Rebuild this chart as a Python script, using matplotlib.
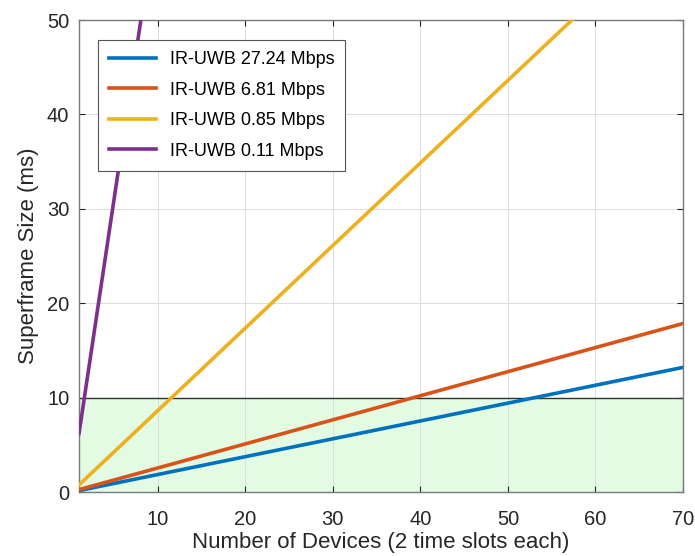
import numpy as np
import matplotlib.pyplot as plt

plt.rcParams['font.family'] = ['Liberation Sans', 'DejaVu Sans']

## data
devices = [1, 70]
labels = ['IR-UWB 27.24 Mbps', 'IR-UWB 6.81 Mbps', 'IR-UWB 0.85 Mbps', 'IR-UWB 0.11 Mbps']
sf_27 = [0.15, 13.2]
sf_6 = [0.25, 17.85]
sf_085 = [0.75, 61.1]
sf_011 = [6.2, 434.0]
limit = 10
colors = ['#0072BD', '#D95319', '#EDB120', '#7E2F8E']

fig = plt.figure(figsize=(6.95, 5.56), dpi=100)
ax = fig.add_axes([0.1137, 0.1151, 0.8690, 0.8489])

ax.axhspan(0, limit, color='#e3fbe3', zorder=0)
ax.axhline(limit, color='#333333', lw=1.0, zorder=1)

for y, lab, c in zip([sf_27, sf_6, sf_085, sf_011], labels, colors):
    ax.plot(devices, y, color=c, lw=2.6, label=lab, zorder=3)

ax.set_xlim(1, 70)
ax.set_ylim(0, 50)
ax.set_xticks([10, 20, 30, 40, 50, 60, 70])
ax.set_yticks([0, 10, 20, 30, 40, 50])
ax.grid(True, color='#dcdcdc', lw=0.7, zorder=0)
ax.set_axisbelow(True)
ax.tick_params(direction='in', top=True, right=True, labelsize=14.5, length=4,
               color='#222222', labelcolor='#262626', pad=7)
ax.tick_params(axis='x', pad=13)
for s in ax.spines.values():
    s.set_color('#7a7a7a')
    s.set_linewidth(1.0)

ax.set_xlabel('Number of Devices (2 time slots each)', fontsize=16, color='#262626', labelpad=2)
ax.set_ylabel('Superframe Size (ms)', fontsize=16, color='#262626', labelpad=6)

leg = ax.legend(loc='upper left', bbox_to_anchor=(0.031, 0.957), borderaxespad=0,
                fontsize=13, handlelength=2.65, framealpha=1, fancybox=False,
                edgecolor='#555555', borderpad=0.6, labelspacing=0.75, handletextpad=0.75)
leg.get_frame().set_linewidth(0.8)

fig.savefig('out.png', dpi=100)
